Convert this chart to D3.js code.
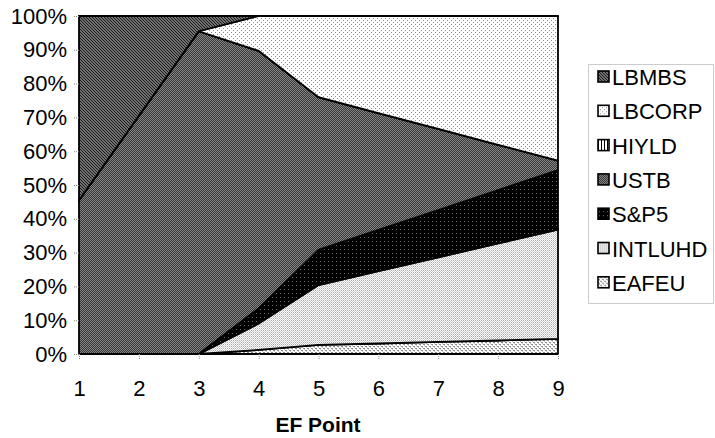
<!DOCTYPE html>
<html>
<head>
<meta charset="utf-8">
<script src="https://cdn.jsdelivr.net/npm/d3@7"></script>
<style>
  body { margin: 0; background: #fff; }
  svg { display: block; font-family: "Liberation Sans", Arial, sans-serif; }
</style>
</head>
<body>
<script>
// EF points on the x axis
var points = [1, 2, 3, 4, 5, 6, 7, 8, 9];

// asset mix (% of portfolio) at each EF point
var EAFEU   = [0, 0, 0, 1.2, 2.7, 3.1, 3.6, 4.0, 4.5];
var INTLUHD = [0, 0, 0, 7.8, 17.7, 21.4, 25.0, 28.7, 32.3];
var SP5     = [0, 0, 0, 4.5, 10.4, 12.2, 14.0, 15.8, 17.6];
var USTB    = [45.5, 70.5, 95.5, 76.2, 45.2, 34.6, 24.0, 13.4, 2.8];
var HIYLD   = [0, 0, 0, 0, 0, 0, 0, 0, 0];
var LBCORP  = [0, 0, 0, 10.3, 24.0, 28.7, 33.4, 38.1, 42.8];
var LBMBS   = [54.5, 29.5, 4.5, 0, 0, 0, 0, 0, 0];

// stacking order, bottom to top
var seriesNames = ["EAFEU", "INTLUHD", "S&P5", "USTB", "HIYLD", "LBCORP", "LBMBS"];
var seriesValues = [EAFEU, INTLUHD, SP5, USTB, HIYLD, LBCORP, LBMBS];
// legend lists the top series first
var legendNames = ["LBMBS", "LBCORP", "HIYLD", "USTB", "S&P5", "INTLUHD", "EAFEU"];

var yTicks = [0, 10, 20, 30, 40, 50, 60, 70, 80, 90, 100];

var width = 715, height = 438;
var margin = { left: 79, top: 16, right: 157, bottom: 84 };
var graphWidth = width - margin.left - margin.right;
var graphHeight = height - margin.top - margin.bottom;

var rows = points.map(function(p, i) {
  var row = { point: p };
  seriesNames.forEach(function(name, j) { row[name] = seriesValues[j][i]; });
  return row;
});

var svg = d3.select('body')
  .append('svg')
  .attr('width', width)
  .attr('height', height);

// fill patterns, one per series
var defs = svg.append('defs');
var patternId = {
  "LBMBS": "pLBMBS", "LBCORP": "pLBCORP", "HIYLD": "pHIYLD", "USTB": "pUSTB",
  "S&P5": "pSP5", "INTLUHD": "pINTLUHD", "EAFEU": "pEAFEU"
};

function makePattern(id, w, h, bg) {
  var p = defs.append('pattern')
    .attr('id', id)
    .attr('patternUnits', 'userSpaceOnUse')
    .attr('width', w)
    .attr('height', h);
  p.append('rect').attr('width', w).attr('height', h).attr('fill', bg);
  return p;
}
function dot(p, x, y, w, h, c) {
  p.append('rect').attr('x', x).attr('y', y).attr('width', w).attr('height', h).attr('fill', c);
}

var pm = makePattern('pLBMBS', 3, 3, '#9a9a9a');
pm.append('path').attr('d', 'M0,0L3,3M-1,2L1,4M2,-1L4,1')
  .attr('stroke', '#111').attr('stroke-width', 1.1);

var pc = makePattern('pLBCORP', 4, 4, '#ffffff');
dot(pc, 0, 0, 1, 1, '#8a8a8a');
dot(pc, 2, 2, 1, 1, '#8a8a8a');

var ph = makePattern('pHIYLD', 3, 3, '#ffffff');
dot(ph, 0, 0, 1, 3, '#000000');

var pu = makePattern('pUSTB', 2, 2, '#858585');
dot(pu, 0, 0, 1, 1, '#383838');
dot(pu, 1, 1, 1, 1, '#383838');

var ps = makePattern('pSP5', 4, 4, '#000000');
dot(ps, 1, 1, 1, 1, '#6e6e6e');

var pi = makePattern('pINTLUHD', 2, 2, '#ffffff');
dot(pi, 0, 0, 1, 1, '#a8a8a8');
dot(pi, 1, 1, 1, 1, '#cfcfcf');

var pe = makePattern('pEAFEU', 4, 4, '#ffffff');
dot(pe, 0, 0, 2, 1, '#8c8c8c');
dot(pe, 2, 2, 2, 1, '#8c8c8c');
dot(pe, 1, 1, 1, 1, '#c8c8c8');
dot(pe, 3, 3, 1, 1, '#c8c8c8');

// scales
var xScale = d3.scaleLinear()
  .domain([1, 9])
  .range([0, graphWidth]);

var yScale = d3.scaleLinear()
  .domain([0, 100])
  .range([graphHeight, 0]);

var stack = d3.stack().keys(seriesNames);
var layers = stack(rows);

var area = d3.area()
  .x(function(d) { return xScale(d.data.point); })
  .y0(function(d) { return yScale(d[0]); })
  .y1(function(d) { return yScale(d[1]); });

var plot = svg.append('g')
  .attr('transform', 'translate(' + margin.left + ',' + margin.top + ')');

plot.selectAll('path.layer')
  .data(layers)
  .enter()
  .append('path')
  .attr('class', 'layer')
  .attr('d', area)
  .attr('fill', function(d) { return 'url(#' + patternId[d.key] + ')'; })
  .attr('stroke', '#000')
  .attr('stroke-width', 1.8)
  .attr('stroke-linejoin', 'miter');

// axes
var xAxis = d3.axisBottom(xScale).tickValues(points).tickSize(6).tickPadding(20);
var xAxisNodes = svg.append('g')
  .attr('transform', 'translate(' + margin.left + ',' + (margin.top + graphHeight) + ')')
  .call(xAxis);

var yAxis = d3.axisLeft(yScale).tickValues(yTicks).tickSize(6).tickPadding(6)
  .tickFormat(function(d) { return d + '%'; });
var yAxisNodes = svg.append('g')
  .attr('transform', 'translate(' + margin.left + ',' + margin.top + ')')
  .call(yAxis);

styleAxisNodes(xAxisNodes);
styleAxisNodes(yAxisNodes);
xAxisNodes.select('.domain').remove();
yAxisNodes.select('.domain').remove();

// x axis title
svg.append('text')
  .attr('x', 318)
  .attr('y', 432)
  .attr('text-anchor', 'middle')
  .attr('font-size', 21)
  .attr('font-weight', 'bold')
  .text('EF Point');

// legend
var legend = svg.append('g').attr('transform', 'translate(588,64)');
legend.append('rect')
  .attr('x', 0.5).attr('y', 0.5)
  .attr('width', 125).attr('height', 239)
  .attr('fill', '#fff')
  .attr('stroke', '#999')
  .attr('stroke-dasharray', '1,1');

var items = legend.selectAll('g.item')
  .data(legendNames)
  .enter()
  .append('g')
  .attr('class', 'item')
  .attr('transform', function(d, i) { return 'translate(10,' + (13 + i * 34.3) + ')'; });

items.append('rect')
  .attr('x', 0).attr('y', -6)
  .attr('width', 11).attr('height', 11)
  .attr('fill', function(d) { return 'url(#' + patternId[d] + ')'; })
  .attr('stroke', '#000')
  .attr('stroke-width', 1.6);

items.append('text')
  .attr('x', 14)
  .attr('y', 8)
  .attr('font-size', 22)
  .text(function(d) { return d; });

function styleAxisNodes(axisNodes) {
  axisNodes.selectAll('.tick line')
    .attr('stroke', '#888')
    .attr('stroke-width', 1)
    .attr('stroke-dasharray', '1,1');
  axisNodes.selectAll('.tick text')
    .attr('font-size', 22)
    .attr('font-family', '"Liberation Sans", Arial, sans-serif')
    .attr('fill', '#000');
}
</script>
</body>
</html>
